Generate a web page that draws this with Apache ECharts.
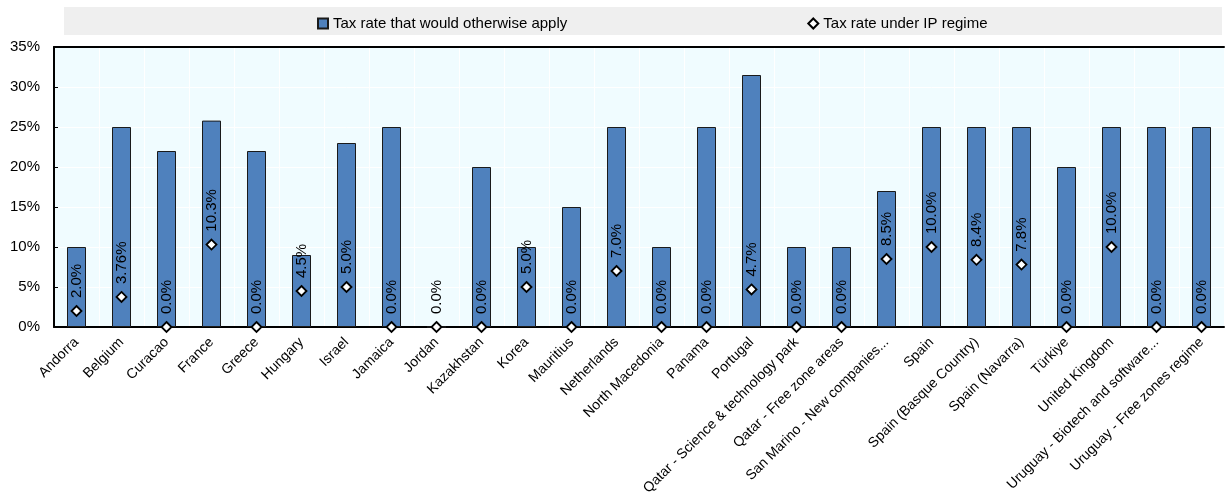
<!DOCTYPE html>
<html>
<head>
<meta charset="utf-8">
<script src="https://cdn.jsdelivr.net/npm/echarts@6/dist/echarts.min.js"></script>
<style>
  html, body { margin: 0; padding: 0; background: #fff; }
  #chart { width: 1226px; height: 501px; }
</style>
</head>
<body>
<div id="chart"></div>
<script>
const categories = [
  'Andorra', 'Belgium', 'Curacao', 'France', 'Greece', 'Hungary', 'Israel', 'Jamaica',
  'Jordan', 'Kazakhstan', 'Korea', 'Mauritius', 'Netherlands', 'North Macedonia', 'Panama',
  'Portugal', 'Qatar - Science & technology park', 'Qatar - Free zone areas',
  'San Marino - New companies...', 'Spain', 'Spain (Basque Country)', 'Spain (Navarra)',
  'Türkiye', 'United Kingdom', 'Uruguay - Biotech and software...', 'Uruguay - Free zones regime'
]
// tax rate that would otherwise apply (%)
const otherwiseRate = [
  10, 25, 22, 25.8, 22, 9, 23, 25, 0, 20, 10, 15, 25, 10, 25,
  31.5, 10, 10, 17, 25, 25, 25, 20, 25, 25, 25
]
// tax rate under IP regime (%)
const ipRate = [
  2.0, 3.76, 0, 10.3, 0, 4.5, 5.0, 0, 0, 0, 5.0, 0, 7.0, 0, 0,
  4.7, 0, 0, 8.5, 10.0, 8.4, 7.8, 0, 10.0, 0, 0
]
const yTicks = [0, 5, 10, 15, 20, 25, 30, 35]

const FONT = '"Liberation Sans", Arial, sans-serif'
const chart = echarts.init(document.getElementById('chart'))

chart.setOption({
  backgroundColor: '#fff',
  animation: false,
  textStyle: { fontFamily: FONT },
  graphic: [{
    type: 'rect',
    z: -1,
    shape: { x: 64, y: 7, width: 1158, height: 28 },
    style: { fill: '#efefef' }
  }],
  legend: {
    top: 11,
    left: 312,
    itemGap: 240,
    itemWidth: 10,
    itemHeight: 10,
    textStyle: { fontFamily: FONT, fontSize: 15, color: '#000' },
    data: [
      { name: 'Tax rate that would otherwise apply', icon: 'rect' },
      { name: 'Tax rate under IP regime', icon: 'diamond' }
    ]
  },
  grid: {
    left: 54,
    right: 2,
    top: 47,
    bottom: 174,
    show: true,
    backgroundColor: '#f0fcff',
    borderWidth: 0
  },
  xAxis: [{
    type: 'category',
    data: categories,
    axisLine: { lineStyle: { color: '#000', width: 2 } },
    axisTick: { inside: true, length: 5, lineStyle: { color: '#000' } },
    splitLine: { show: true, lineStyle: { color: '#fff', width: 1 } },
    axisLabel: {
      interval: 0,
      rotate: 45,
      margin: 13,
      fontFamily: FONT,
      fontSize: 14,
      color: '#000'
    }
  }, {
    type: 'category',
    position: 'top',
    data: categories,
    axisLine: { lineStyle: { color: '#000', width: 2 } },
    axisTick: { show: false },
    axisLabel: { show: false }
  }],
  yAxis: {
    type: 'value',
    min: yTicks[0],
    max: yTicks[yTicks.length - 1],
    interval: 5,
    axisLine: { show: true, lineStyle: { color: '#000', width: 2 } },
    axisTick: { show: true, inside: true, length: 4, lineStyle: { color: '#000' } },
    splitLine: { show: true, lineStyle: { color: '#fff', width: 1 } },
    axisLabel: {
      margin: 14,
      fontFamily: FONT,
      fontSize: 15,
      color: '#000',
      formatter: v => v + '%'
    }
  },
  series: [{
    name: 'Tax rate that would otherwise apply',
    type: 'bar',
    barWidth: 19,
    data: otherwiseRate,
    itemStyle: { color: '#4f81bd', borderColor: '#1a1a1a', borderWidth: 1 }
  }, {
    name: 'Tax rate under IP regime',
    type: 'scatter',
    symbol: 'diamond',
    symbolSize: 10,
    z: 5,
    data: ipRate,
    itemStyle: { color: '#ffffff', borderColor: '#000', borderWidth: 1.8, opacity: 1 },
    label: {
      show: true,
      position: 'top',
      rotate: 90,
      align: 'left',
      verticalAlign: 'middle',
      distance: 7,
      fontFamily: FONT,
      fontSize: 15,
      color: '#000',
      formatter: p => (Number.isInteger(Math.round(p.value * 100) / 10) ? p.value.toFixed(1) : p.value.toFixed(2)) + '%'
    }
  }]
})
</script>
</body>
</html>
